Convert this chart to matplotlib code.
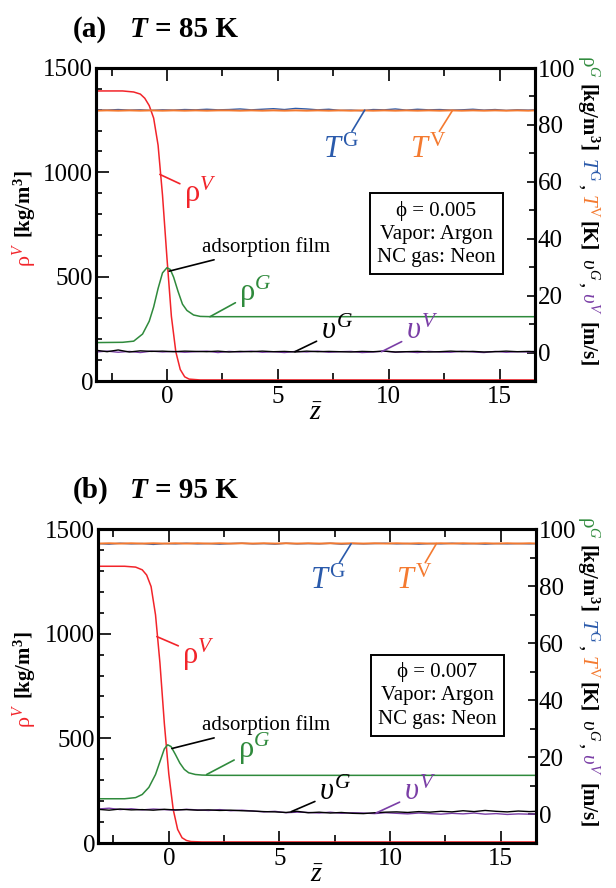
import matplotlib
matplotlib.use('Agg')
import matplotlib.pyplot as plt
from matplotlib.ticker import MultipleLocator

plt.rcParams['font.family'] = ['Liberation Serif', 'DejaVu Serif']
plt.rcParams['mathtext.fontset'] = 'custom'
plt.rcParams['mathtext.rm'] = 'Liberation Serif'
plt.rcParams['mathtext.it'] = 'Liberation Serif:italic'
plt.rcParams['mathtext.bf'] = 'Liberation Serif:bold'

# colours
RED = '#f2242a'
GREEN = '#2f8a3c'
BLUE = '#2a5aab'
ORANGE = '#f47a30'
PURPLE = '#7a3ea6'

# ---- data ----
# liquid density rho^V [kg/m3] (left axis)
z_rho_a = [-3.2, -2.0, -1.5, -1.2, -1.0, -0.8, -0.6, -0.4, -0.2, 0.0, 0.2, 0.4, 0.6, 0.8, 1.0, 1.5, 2.0, 16.6]
rhoV_a = [1390, 1390, 1385, 1375, 1355, 1320, 1260, 1130, 890, 590, 310, 140, 55, 20, 9, 5, 5, 5]
z_rho_b = [-3.2, -2.0, -1.5, -1.2, -1.0, -0.8, -0.6, -0.4, -0.2, 0.0, 0.2, 0.4, 0.6, 0.8, 1.0, 1.5, 2.0, 16.6]
rhoV_b = [1322, 1322, 1318, 1305, 1280, 1225, 1090, 860, 570, 330, 160, 65, 25, 12, 7, 5, 5, 5]

# gas density rho^G [kg/m3] (right axis)
z_rhoG_a = [-3.2, -2.0, -1.5, -1.1, -0.8, -0.6, -0.4, -0.2, 0.0, 0.15, 0.3, 0.5, 0.7, 0.9, 1.2, 1.5, 2.0, 16.6]
rhoG_a = [3.5, 3.6, 4.0, 6.5, 11.0, 16.0, 22.5, 28.0, 29.8, 29.2, 26.5, 21.5, 17.0, 14.8, 13.2, 12.7, 12.6, 12.6]
z_rhoG_b = [-3.2, -2.0, -1.5, -1.2, -0.9, -0.6, -0.4, -0.2, -0.05, 0.1, 0.3, 0.5, 0.7, 0.9, 1.2, 1.5, 2.0, 16.6]
rhoG_b = [5.5, 5.5, 5.9, 7.0, 9.5, 14.0, 18.5, 23.0, 24.4, 23.8, 21.0, 18.0, 15.8, 14.6, 14.0, 13.8, 13.7, 13.7]

# temperatures and velocities (right axis), sampled along z
z_n = [-3.2, -2.7, -2.2, -1.7, -1.2, -0.7, -0.2, 0.3, 0.8, 1.3, 1.8, 2.3, 2.8, 3.3, 3.8, 4.3, 4.8,
       5.3, 5.8, 6.3, 6.8, 7.3, 7.8, 8.3, 8.8, 9.3, 9.8, 10.3, 10.8, 11.3, 11.8, 12.3, 12.8, 13.3,
       13.8, 14.3, 14.8, 15.3, 15.8, 16.3, 16.6]
TG_a = [85.3, 85.2, 85.4, 85.2, 85.3, 85.1, 85.3, 85.2, 85.4, 85.3, 85.5, 85.3, 85.4, 85.6, 85.3,
        85.5, 85.7, 85.4, 85.8, 85.6, 85.3, 85.5, 85.1, 85.2, 85.0, 85.4, 85.3, 85.6, 85.2, 85.5,
        85.3, 85.4, 85.2, 85.3, 85.5, 85.2, 85.4, 85.1, 85.3, 85.2, 85.3]
TV_a = [85.0, 85.1, 85.0, 85.1, 85.0, 85.1, 85.0, 85.1, 85.0, 85.1, 85.0, 85.1, 85.1, 85.0, 85.1,
        85.0, 85.1, 85.0, 85.1, 85.0, 85.1, 85.0, 85.1, 85.0, 85.1, 85.0, 85.1, 85.0, 85.1, 85.0,
        85.1, 85.0, 85.1, 85.0, 85.1, 85.0, 85.1, 85.0, 85.1, 85.0, 85.1]
vG_a = [0.8, 0.3, 0.9, 0.2, 0.6, 0.4, 0.5, 0.3, 0.5, 0.4, 0.3, 0.5, 0.2, 0.4, 0.3, 0.5, 0.3, 0.4,
        0.2, 0.5, 0.3, 0.4, 0.3, 0.2, 0.4, 0.3, 0.5, 0.2, 0.3, 0.4, 0.2, 0.3, 0.5, 0.3, 0.4, 0.2,
        0.3, 0.5, 0.3, 0.4, 0.3]
vV_a = [0.2, 0.5, 0.1, 0.4, 0.0, 0.5, 0.2, 0.4, 0.1, 0.3, 0.5, 0.0, 0.4, 0.2, 0.5, 0.1, 0.3, 0.0,
        0.4, 0.2, 0.5, 0.1, 0.3, 0.4, 0.0, 0.2, 0.5, 0.1, 0.3, 0.0, 0.4, 0.2, 0.1, 0.5, 0.2, 0.0,
        0.4, 0.1, 0.3, 0.2, 0.4]
TG_b = [94.9, 94.7, 95.0, 94.8, 94.9, 94.6, 94.9, 94.8, 95.0, 94.8, 94.9, 94.7, 94.9, 95.0, 94.8,
        94.9, 94.7, 95.0, 94.8, 94.9, 94.8, 95.0, 94.7, 94.9, 94.8, 94.9, 95.0, 94.8, 94.9, 94.7,
        94.9, 94.8, 95.0, 94.8, 94.9, 94.7, 94.9, 94.8, 94.9, 94.8, 94.9]
TV_b = [94.9, 95.0, 94.9, 95.0, 94.9, 95.0, 94.9, 95.0, 94.9, 95.0, 94.9, 95.0, 94.9, 95.0, 94.9,
        95.0, 94.9, 95.0, 94.9, 95.0, 94.9, 95.0, 94.9, 95.0, 94.9, 95.0, 94.9, 95.0, 94.9, 95.0,
        94.9, 95.0, 94.9, 95.0, 94.9, 95.0, 94.9, 95.0, 94.9, 95.0, 94.9]
vG_b = [1.8, 1.5, 1.9, 1.6, 1.7, 1.5, 1.8, 1.6, 1.7, 1.5, 1.6, 1.4, 1.5, 1.3, 1.2, 1.0, 0.9, 0.7,
        1.1, 0.6, 0.8, 0.5, 0.7, 0.4, 0.3, 0.6, 0.8, 0.9, 0.7, 1.0, 0.8, 1.1, 0.9, 1.3, 1.0, 1.4,
        1.1, 0.9, 1.2, 1.0, 1.1]
vV_b = [1.9, 2.2, 1.7, 2.0, 1.6, 1.9, 1.7, 1.5, 1.8, 1.6, 1.4, 1.7, 1.3, 1.5, 1.2, 0.9, 1.1, 0.6,
        0.8, 0.7, 0.5, 0.8, 0.4, 0.6, 0.5, 0.3, 0.6, 0.4, 0.2, 0.5, 0.3, 0.1, 0.4, 0.2, 0.5, 0.1,
        0.3, 0.0, 0.2, 0.1, 0.2]

W, H = 616, 888
fig = plt.figure(figsize=(W / 100, H / 100), dpi=100)
renderer = fig.canvas.get_renderer()


def fig_xy(px, py):
    return px / W, 1 - py / H


def stack_text(x, y, pieces, rotation):
    # place coloured pieces one after another along a rotated label
    sign = 1 if rotation == 270 else -1
    for s, color, weight, size, gap in pieces:
        t = fig.text(*fig_xy(x, y), s, color=color, fontweight=weight, fontsize=size,
                     rotation=rotation, rotation_mode='anchor', ha='left', va='baseline')
        bb = t.get_window_extent(renderer)
        y += sign * (bb.height + gap)


def draw_panel(box, z_rho, rhoV, z_g, rhoG, TG, TV, vG, vV, tag, temp, phi, ann):
    left, top, right, bottom = box
    ax = fig.add_axes([left / W, 1 - bottom / H, (right - left) / W, (bottom - top) / H])
    ax2 = ax.twinx()

    ax.plot(z_rho, rhoV, color=RED, lw=1.1, zorder=3)
    ax2.plot(z_g, rhoG, color=GREEN, lw=1.1)
    ax2.plot(z_n, TG, color=BLUE, lw=1.0)
    ax2.plot(z_n, TV, color=ORANGE, lw=1.4)
    ax2.plot(z_n, vV, color=PURPLE, lw=1.0)
    ax2.plot(z_n, vG, color='black', lw=1.0)

    ax.set_xlim(-3.2, 16.6)
    ax.set_ylim(0, 1500)
    ax2.set_ylim(-10, 100)
    ax.xaxis.set_major_locator(MultipleLocator(5))
    ax.xaxis.set_minor_locator(MultipleLocator(2.5))
    ax.yaxis.set_major_locator(MultipleLocator(500))
    ax.yaxis.set_minor_locator(MultipleLocator(100))
    ax2.yaxis.set_major_locator(MultipleLocator(20))
    ax2.yaxis.set_minor_locator(MultipleLocator(10))

    ax.tick_params(axis='x', which='both', direction='in', top=True, labelsize=18, width=1.2)
    ax.tick_params(axis='x', which='major', length=9)
    ax.tick_params(axis='x', which='minor', length=6)
    ax.tick_params(axis='y', which='both', direction='in', labelsize=18, width=1.2)
    ax.tick_params(axis='y', which='major', length=9)
    ax.tick_params(axis='y', which='minor', length=4)
    ax2.tick_params(axis='y', which='both', direction='in', labelsize=18, width=1.2)
    ax2.tick_params(axis='y', which='major', length=6)
    ax2.tick_params(axis='y', which='minor', length=4)
    ax.tick_params(axis='y', pad=2)
    ax2.tick_params(axis='y', pad=2)
    for a in (ax, ax2):
        for sp in a.spines.values():
            sp.set_linewidth(2.2)
    ax.set_xlabel(r'$\bar{z}$', fontsize=20, labelpad=-5)

    # leader-line annotations
    for text, color, axis, xy, xyt, size in ann:
        target = ax if axis == 'L' else ax2
        target.annotate(text, xy=xy, xytext=xyt, color=color, fontsize=size,
                        ha='center', va='center',
                        arrowprops=dict(arrowstyle='-', color=color, lw=1.2,
                                        shrinkA=1, shrinkB=0))

    ax2.text(0.775, 0.47, 'ϕ = %s\nVapor: Argon\nNC gas: Neon' % phi, transform=ax.transAxes,
             fontsize=15, ha='center', va='center', linespacing=1.3, zorder=5,
             bbox=dict(boxstyle='square,pad=0.35', fc='white', ec='black', lw=1.4))

    # panel title
    fig.text(*fig_xy(73, top - 31), tag, fontsize=21, fontweight='bold', va='baseline')
    fig.text(*fig_xy(130, top - 31), 'T', fontsize=21, fontweight='bold', style='italic',
             va='baseline')
    fig.text(*fig_xy(155, top - 31), '= %d K' % temp, fontsize=21, fontweight='bold',
             va='baseline')

    # left axis label, read bottom to top
    stack_text(31, top + 199, [
        ('ρ$^{V}$', RED, 'normal', 16, 5),
        ('[kg/m$^{\\mathbf{3}}$]', 'black', 'bold', 15, 0),
    ], 90)

    # right axis label, read top to bottom
    stack_text(582, top - 13, [
        ('ρ$^{G}$', GREEN, 'normal', 15, 4),
        ('[kg/m$^{\\mathbf{3}}$]', 'black', 'bold', 15, 7),
        ('$T^{\\mathrm{G}}$', BLUE, 'normal', 15, 2),
        (',', 'black', 'normal', 15, 4),
        ('$T^{\\mathrm{V}}$', ORANGE, 'normal', 15, 3),
        ('[K]', 'black', 'bold', 15, 6),
        ('$\\upsilon^{G}$', 'black', 'normal', 15, 2),
        (',', 'black', 'normal', 15, 4),
        ('$\\upsilon^{V}$', PURPLE, 'normal', 15, 7),
        ('[m/s]', 'black', 'bold', 15, 0),
    ], 270)


ann_a = [
    ('ρ$^{V}$', RED, 'L', (-0.32, 990), (1.5, 900), 22),
    ('adsorption film', 'black', 'R', (0.1, 28.6), (4.45, 37.2), 15),
    ('ρ$^{G}$', GREEN, 'R', (1.94, 12.6), (4.0, 21.4), 22),
    ('$\\upsilon^{G}$', 'black', 'R', (5.77, 0.3), (7.66, 7.4), 22),
    ('$\\upsilon^{V}$', PURPLE, 'R', (9.68, 0.3), (11.5, 7.4), 22),
    ('$T^{\\mathrm{G}}$', BLUE, 'R', (8.92, 85.2), (7.84, 71.2), 22),
    ('$T^{\\mathrm{V}}$', ORANGE, 'R', (12.88, 85.1), (11.76, 71.2), 22),
]
ann_b = [
    ('ρ$^{V}$', RED, 'L', (-0.54, 986), (1.35, 900), 22),
    ('adsorption film', 'black', 'R', (0.14, 23.1), (4.4, 31.4), 15),
    ('ρ$^{G}$', GREEN, 'R', (1.71, 14.0), (3.87, 22.8), 22),
    ('$\\upsilon^{G}$', 'black', 'R', (5.54, 1.0), (7.52, 7.6), 22),
    ('$\\upsilon^{V}$', PURPLE, 'R', (9.37, 0.5), (11.35, 7.6), 22),
    ('$T^{\\mathrm{G}}$', BLUE, 'R', (8.24, 94.8), (7.2, 81.7), 22),
    ('$T^{\\mathrm{V}}$', ORANGE, 'R', (12.1, 94.9), (11.1, 81.7), 22),
]

draw_panel((96, 68, 535, 381), z_rho_a, rhoV_a, z_rhoG_a, rhoG_a, TG_a, TV_a, vG_a, vV_a,
           '(a)', 85, '0.005', ann_a)
draw_panel((98, 529, 536, 843), z_rho_b, rhoV_b, z_rhoG_b, rhoG_b, TG_b, TV_b, vG_b, vV_b,
           '(b)', 95, '0.007', ann_b)

fig.savefig('out.png', dpi=100)
